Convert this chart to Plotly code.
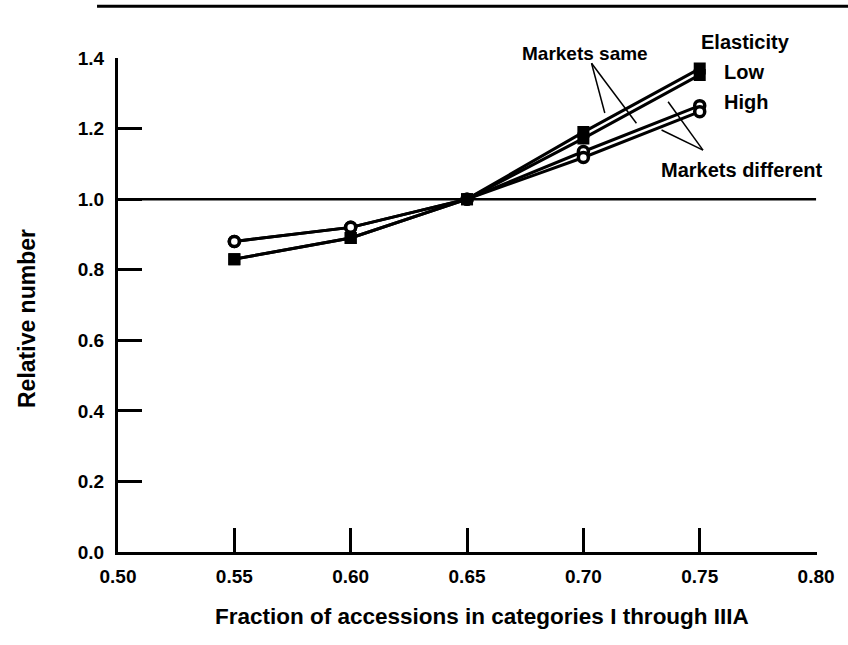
import plotly.graph_objects as go

# Data
fractions = [0.55, 0.60, 0.65, 0.70, 0.75]
low_same = [0.83, 0.89, 1.00, 1.190, 1.370]
low_diff = [0.83, 0.89, 1.00, 1.172, 1.352]
high_same = [0.88, 0.92, 1.00, 1.135, 1.265]
high_diff = [0.88, 0.92, 1.00, 1.118, 1.248]
x_ticks = [0.50, 0.55, 0.60, 0.65, 0.70, 0.75, 0.80]
x_tick_labels = ["0.50", "0.55", "0.60", "0.65", "0.70", "0.75", "0.80"]
y_ticks = [0.0, 0.2, 0.4, 0.6, 0.8, 1.0, 1.2, 1.4]
y_tick_labels = ["0.0", "0.2", "0.4", "0.6", "0.8", "1.0", "1.2", "1.4"]

FONT = "Liberation Sans, Arial, sans-serif"

fig = go.Figure()

def add_series(yvals, symbol, name):
    is_sq = symbol == "square"
    fig.add_trace(go.Scatter(
        x=fractions, y=yvals, mode="lines+markers", name=name,
        line=dict(color="black", width=3),
        marker=dict(symbol=symbol, size=10,
                    color="black" if is_sq else "white",
                    line=dict(color="black", width=2 if is_sq else 3.5)),
        showlegend=False,
    ))

add_series(high_same, "circle", "High, markets same")
add_series(high_diff, "circle", "High, markets different")
add_series(low_same, "square", "Low, markets same")
add_series(low_diff, "square", "Low, markets different")

shapes = [
    # reference line at 1.0
    dict(type="line", xref="x", yref="y", x0=0.5, x1=0.8, y0=1.0, y1=1.0,
         line=dict(color="black", width=2.5), layer="below"),
    # top rule
    dict(type="line", xref="paper", yref="paper", x0=-0.03, x1=1.05, y0=1.105, y1=1.105,
         line=dict(color="black", width=3)),
    # "Markets same" pointers
    dict(type="line", xref="x", yref="y", x0=0.7035, y0=1.385, x1=0.7092, y1=1.244,
         line=dict(color="black", width=1.5)),
    dict(type="line", xref="x", yref="y", x0=0.7035, y0=1.385, x1=0.7228, y1=1.215,
         line=dict(color="black", width=1.5)),
    # "Markets different" pointers
    dict(type="line", xref="x", yref="y", x0=0.7514, y0=1.139, x1=0.7364, y1=1.276,
         line=dict(color="black", width=1.5)),
    dict(type="line", xref="x", yref="y", x0=0.7514, y0=1.139, x1=0.7336, y1=1.196,
         line=dict(color="black", width=1.5)),
]

def ann(text, x, y, xanchor="center", size=20):
    return dict(text=text, x=x, y=y, xref="paper", yref="paper", showarrow=False,
                xanchor=xanchor, yanchor="middle",
                font=dict(family=FONT, size=size, color="black", weight="bold"))

W, H = 848, 645
L, R, T, B = 118, 31, 58, 93
pw, ph = W - L - R, H - T - B

def px(xp):
    return (xp - L) / pw

def py(yp):
    return (H - B - yp) / ph

annotations = [
    ann("Markets same", px(585), py(53), size=19),
    ann("Elasticity", px(745), py(42)),
    ann("Low", px(722), py(72), xanchor="left"),
    ann("High", px(722), py(102), xanchor="left"),
    ann("Markets different", px(741), py(170)),
    ann("Fraction of accessions in categories I through IIIA", px(482), py(616), size=22.5),
    dict(text="Relative number", x=px(27), y=py(319), xref="paper", yref="paper",
         showarrow=False, textangle=-90, xanchor="center", yanchor="middle",
         font=dict(family=FONT, size=23, color="black", weight="bold")),
]

fig.update_layout(
    width=W, height=H,
    margin=dict(l=L, r=R, t=T, b=B),
    paper_bgcolor="white", plot_bgcolor="white",
    shapes=shapes, annotations=annotations,
    font=dict(family=FONT, color="black"),
)
fig.update_xaxes(
    range=[0.5, 0.8004], tickvals=x_ticks, ticktext=x_tick_labels,
    showgrid=False, zeroline=False, showline=True, linecolor="black", linewidth=3,
    ticks="inside", ticklen=24, tickwidth=2.5, tickcolor="black",
    tickfont=dict(family=FONT, size=19, color="black", weight="bold"),
    ticklabelstandoff=5,
)
fig.update_yaxes(
    range=[0.0, 1.4], tickvals=y_ticks, ticktext=y_tick_labels,
    showgrid=False, zeroline=False, showline=True, linecolor="black", linewidth=3,
    ticks="inside", ticklen=24, tickwidth=2.5, tickcolor="black",
    tickfont=dict(family=FONT, size=19, color="black", weight="bold"),
    ticklabelstandoff=7,
)

fig.write_html("out.html", config={"displayModeBar": False},
               post_script="document.body.style.margin='0';document.body.style.overflow='hidden';")
